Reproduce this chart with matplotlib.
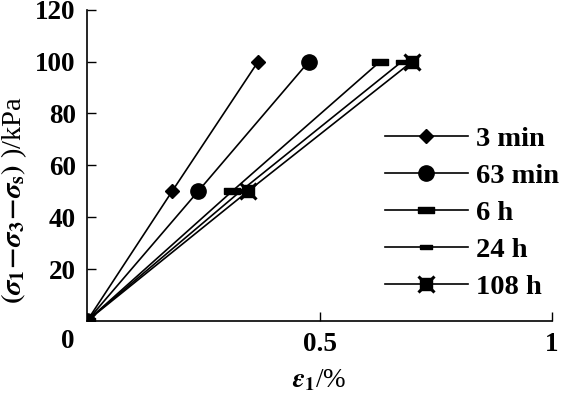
import matplotlib
matplotlib.use('Agg')
import matplotlib.pyplot as plt
import numpy as np

plt.rcParams['font.family'] = 'serif'
plt.rcParams['font.serif'] = ['Liberation Serif', 'DejaVu Serif']
plt.rcParams['font.weight'] = 'bold'
plt.rcParams['mathtext.fontset'] = 'stix'
plt.rcParams['mathtext.default'] = 'it'

# stress levels (kPa) and strain (%) for each curing time
stress = [0, 50, 100]
strain_3min = [0, 0.183, 0.368]
strain_63min = [0, 0.239, 0.477]
strain_6h = [0, 0.312, 0.630]
strain_24h = [0, 0.330, 0.677]
strain_108h = [0, 0.346, 0.699]
labels = ['3 min', '63 min', '6 h', '24 h', '108 h']

dash_big = [(-1, -0.32), (1, -0.32), (1, 0.32), (-1, 0.32), (-1, -0.32)]
dash_small = [(-1, -0.35), (1, -0.35), (1, 0.35), (-1, 0.35), (-1, -0.35)]

fig = plt.figure(figsize=(5.63, 3.94), dpi=100)
ax = fig.add_axes([0.1545, 0.1853, 0.826, 0.79])

lw = 1.2
h1, = ax.plot(strain_3min, stress, color='k', lw=lw, marker='D', ms=7.5)
h2, = ax.plot(strain_63min, stress, color='k', lw=lw, marker='o', ms=11)
h3, = ax.plot(strain_6h, stress, color='k', lw=lw, marker=dash_big, ms=12)
h4, = ax.plot(strain_24h, stress, color='k', lw=lw, marker=dash_small, ms=8.5)
h5, = ax.plot(strain_108h, stress, color='k', lw=lw, marker='s', ms=8)
h5b, = ax.plot(strain_108h, stress, color='k', lw=0, marker='x', ms=12, mew=2.2)

ax.set_xlim(0, 1)
ax.set_ylim(0, 120)
ax.set_xticks([0.5, 1])
ax.set_xticklabels(['0.5', '1'])
ax.set_yticks([20, 40, 60, 80, 100, 120])
ax.tick_params(direction='in', length=6.5, width=1, labelsize=19.5, pad=8)
ax.tick_params(axis='y', pad=8)
for s in ['top', 'right']:
    ax.spines[s].set_visible(False)
for s in ['left', 'bottom']:
    ax.spines[s].set_linewidth(1.2)

fig.text(68 / 563, 1 - 341 / 394, '0', fontsize=19.5, ha='center', va='center')

ax.set_xlabel(r'$\varepsilon_\mathbf{1}$/%', fontsize=19.5, labelpad=7)
ax.set_ylabel(r'$(\sigma_\mathbf{1}\!-\!\sigma_\mathbf{3}\!-\!\sigma_\mathbf{s})$ )/kPa', fontsize=20.5)
ax.yaxis.set_label_coords(-0.125, 0.39)

ax.legend([h1, h2, h3, h4, (h5, h5b)], labels, frameon=False, fontsize=20.5,
          handlelength=2.9, handletextpad=0.3, labelspacing=0.39,
          loc='upper left', bbox_to_anchor=(385 / 563, 1 - 126 / 394),
          bbox_transform=fig.transFigure, borderpad=0, borderaxespad=0)

fig.savefig('out.png', dpi=100)
